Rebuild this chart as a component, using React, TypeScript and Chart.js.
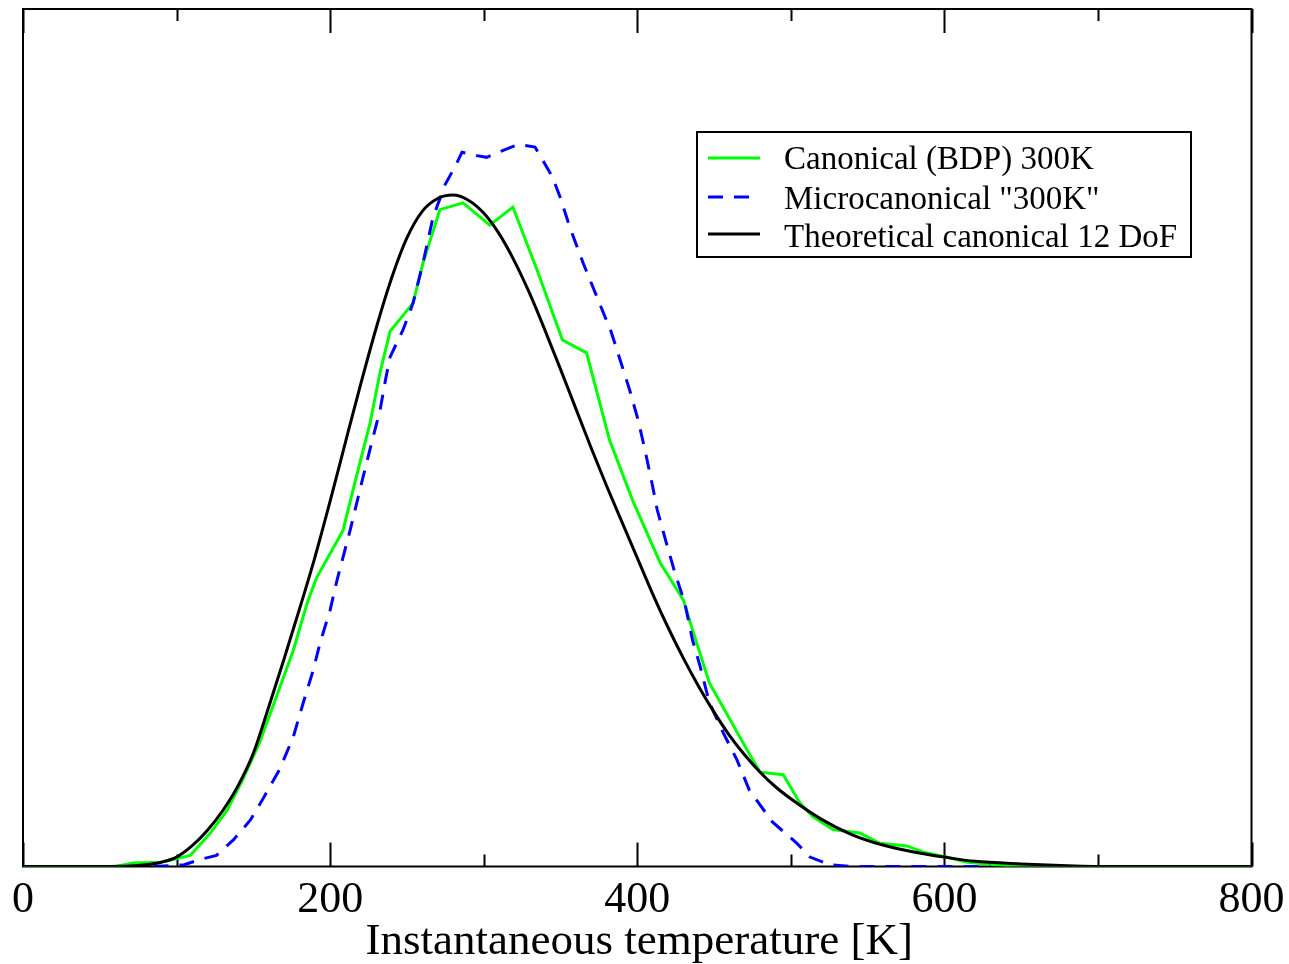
import React, { useEffect, useRef } from "react";
import { Chart, registerables } from "chart.js";

Chart.register(...registerables);

// X axis tick values / labels
const MAJOR_TICKS = [0, 200, 400, 600, 800];
const MINOR_TICKS = [100, 300, 500, 700];
const X_TITLE = "Instantaneous temperature [K]";

// Canonical (BDP) 300K
const GREEN_T = [0, 60, 72, 90, 109, 122, 133, 143, 154, 165, 176, 185, 191, 208.4, 217, 226, 232.5, 239, 254, 260.5, 271.5, 286.5, 304, 319, 334.7, 351.3, 367, 382, 397, 415, 430, 436, 447, 458, 471.5, 480, 495, 506, 514.5, 527.5, 545, 558, 575.6, 586, 603.7, 615, 640, 660, 800];
const GREEN_V = [0, 0, 0.4, 0.5, 1.3, 3.9, 6.6, 10.1, 14.4, 19.8, 25.2, 30.7, 33.6, 39.2, 45.4, 51.7, 57.6, 62.4, 65.7, 70.4, 76.6, 77.4, 74.8, 76.9, 69.6, 61.4, 59.9, 49.7, 42.7, 35.4, 31.1, 27.6, 21.4, 17.9, 13.6, 11.0, 10.7, 7.4, 5.8, 4.3, 3.9, 2.7, 2.4, 1.7, 1.0, 0.5, 0.1, 0, 0];

// Microcanonical "300K"
const BLUE_T = [85, 105, 115, 126, 137, 148, 156, 167, 176, 182.5, 189, 193.5, 200, 204.5, 213, 221, 227, 232.5, 236, 239, 247.5, 254, 260.5, 267, 274.8, 281.3, 285.9, 295.6, 302, 313.9, 322.3, 333.4, 338, 344.5, 349.7, 356, 364.7, 373.8, 379, 382, 388.8, 395, 400.5, 405, 409.6, 413, 419, 424.6, 431, 436, 441, 447, 456, 465, 473, 488, 504, 512.5, 525.5, 540, 630];
const BLUE_V = [0, 0.2, 0.8, 1.3, 3.1, 5.4, 7.8, 11.3, 15.1, 19.1, 22.9, 26.1, 29.9, 33.4, 39.2, 45.1, 49.4, 53.2, 56.7, 59.4, 62.6, 65.7, 70.4, 75.7, 79.5, 81.6, 83.3, 82.9, 82.7, 83.6, 84.2, 83.9, 82.5, 80.5, 78.1, 74.6, 70.4, 66.4, 64.1, 62.9, 59.1, 55.6, 52.1, 48.6, 44.7, 41.6, 37.7, 34.2, 30.7, 26.4, 23.3, 19.1, 15.6, 12.4, 8.9, 5.2, 2.7, 1.1, 0.2, 0, 0];

// Theoretical canonical 12 DoF
const BLACK_T = [0, 50, 70, 80, 90, 100, 110, 120, 130, 140, 150, 160, 170, 180, 190, 200, 210, 220, 230, 240, 250, 260, 270, 280, 290, 300, 310, 320, 330, 340, 350, 360, 370, 380, 390, 400, 410, 420, 430, 440, 450, 460, 470, 480, 490, 500, 520, 540, 560, 580, 600, 620, 650, 680, 710, 800];
const BLACK_V = [0, 0, 0.05, 0.2, 0.5, 1.1, 2.4, 4.2, 6.5, 9.4, 13.2, 18.6, 24.2, 30.0, 36.0, 42.6, 49.5, 56.3, 62.8, 68.6, 73.3, 76.4, 77.9, 78.3, 77.7, 76.2, 73.8, 70.6, 66.8, 62.5, 58.0, 53.4, 48.8, 44.4, 40.2, 36.0, 31.8, 27.9, 24.3, 21.0, 18.0, 15.3, 13.0, 11.0, 9.3, 7.9, 5.5, 3.7, 2.5, 1.7, 1.1, 0.6, 0.3, 0.1, 0, 0];

const LEGEND_LABELS = ["Canonical (BDP) 300K", "Microcanonical \"300K\"", "Theoretical canonical 12 DoF"];

const toPts = (t: number[], v: number[]) => t.map((x, i) => ({ x, y: v[i] }));

const FONT = "'Liberation Serif', 'DejaVu Serif', serif";

const decorPlugin = {
  id: "decor",
  beforeDatasetsDraw(chart: any) {
    const { ctx, chartArea } = chart;
    const xs = chart.scales.x;
    ctx.save();
    ctx.strokeStyle = "#000";
    ctx.lineWidth = 2;
    ctx.strokeRect(chartArea.left, chartArea.top, chartArea.right - chartArea.left, chartArea.bottom - chartArea.top);
    const drawTick = (v: number, len: number) => {
      const px = Math.round(xs.getPixelForValue(v)) + 0.5;
      ctx.beginPath();
      ctx.moveTo(px, chartArea.bottom);
      ctx.lineTo(px, chartArea.bottom - len);
      ctx.moveTo(px, chartArea.top);
      ctx.lineTo(px, chartArea.top + len);
      ctx.stroke();
    };
    MAJOR_TICKS.forEach((v) => drawTick(v, 24));
    MINOR_TICKS.forEach((v) => drawTick(v, 12));
    ctx.restore();
  },
  afterDraw(chart: any) {
    const { ctx, chartArea } = chart;
    const xs = chart.scales.x;
    ctx.save();
    ctx.fillStyle = "#000";
    ctx.font = `44px ${FONT}`;
    ctx.textAlign = "center";
    ctx.textBaseline = "alphabetic";
    MAJOR_TICKS.forEach((v) => {
      ctx.fillText(String(v), xs.getPixelForValue(v), 912);
    });
    ctx.font = `45px ${FONT}`;
    ctx.fillText(X_TITLE, (chartArea.left + chartArea.right) / 2 + 2, 954);

    // legend
    const bx = 697, by = 132, bw = 494, bh = 125;
    ctx.fillStyle = "#fff";
    ctx.fillRect(bx, by, bw, bh);
    ctx.strokeStyle = "#000";
    ctx.lineWidth = 2;
    ctx.strokeRect(bx, by, bw, bh);
    const ds = chart.data.datasets;
    const lineYs = [158, 197, 234];
    const textYs = [169, 209, 247];
    ctx.textAlign = "left";
    ctx.font = `33px ${FONT}`;
    for (let i = 0; i < 3; i++) {
      ctx.beginPath();
      ctx.strokeStyle = ds[i].borderColor;
      ctx.lineWidth = 3;
      ctx.setLineDash(ds[i].borderDash || []);
      ctx.moveTo(708, lineYs[i]);
      ctx.lineTo(760, lineYs[i]);
      ctx.stroke();
      ctx.setLineDash([]);
      ctx.fillStyle = "#000";
      ctx.fillText(LEGEND_LABELS[i], 784, textYs[i]);
    }
    ctx.restore();
  },
};

export default function App() {
  const ref = useRef<HTMLCanvasElement | null>(null);
  useEffect(() => {
    if (!ref.current) return;
    const chart = new Chart(ref.current, {
      type: "scatter",
      data: {
        datasets: [
          {
            label: LEGEND_LABELS[0],
            data: toPts(GREEN_T, GREEN_V),
            showLine: true,
            borderColor: "#00ff00",
            borderWidth: 3,
            pointRadius: 0,
            tension: 0,
            order: 3,
          },
          {
            label: LEGEND_LABELS[1],
            data: toPts(BLUE_T, BLUE_V),
            showLine: true,
            borderColor: "#0000ff",
            borderWidth: 3,
            borderDash: [15, 11],
            pointRadius: 0,
            tension: 0,
            order: 2,
          },
          {
            label: LEGEND_LABELS[2],
            data: toPts(BLACK_T, BLACK_V),
            showLine: true,
            borderColor: "#000000",
            borderWidth: 3,
            pointRadius: 0,
            cubicInterpolationMode: "monotone",
            order: 1,
          },
        ],
      } as any,
      options: {
        animation: false,
        responsive: false,
        layout: { padding: { left: 23, top: 9, right: 37.5, bottom: 97.5 } },
        plugins: { legend: { display: false }, tooltip: { enabled: false } },
        scales: {
          x: { type: "linear", min: 0, max: 800, display: false },
          y: { type: "linear", min: 0, max: 100, display: false },
        },
      },
      plugins: [decorPlugin],
    });
    return () => chart.destroy();
  }, []);
  return (
    <div style={{ position: "fixed", left: 0, top: 0, width: 1289, height: 964, background: "#fff" }}>
      <canvas ref={ref} width={1289} height={964} />
    </div>
  );
}
